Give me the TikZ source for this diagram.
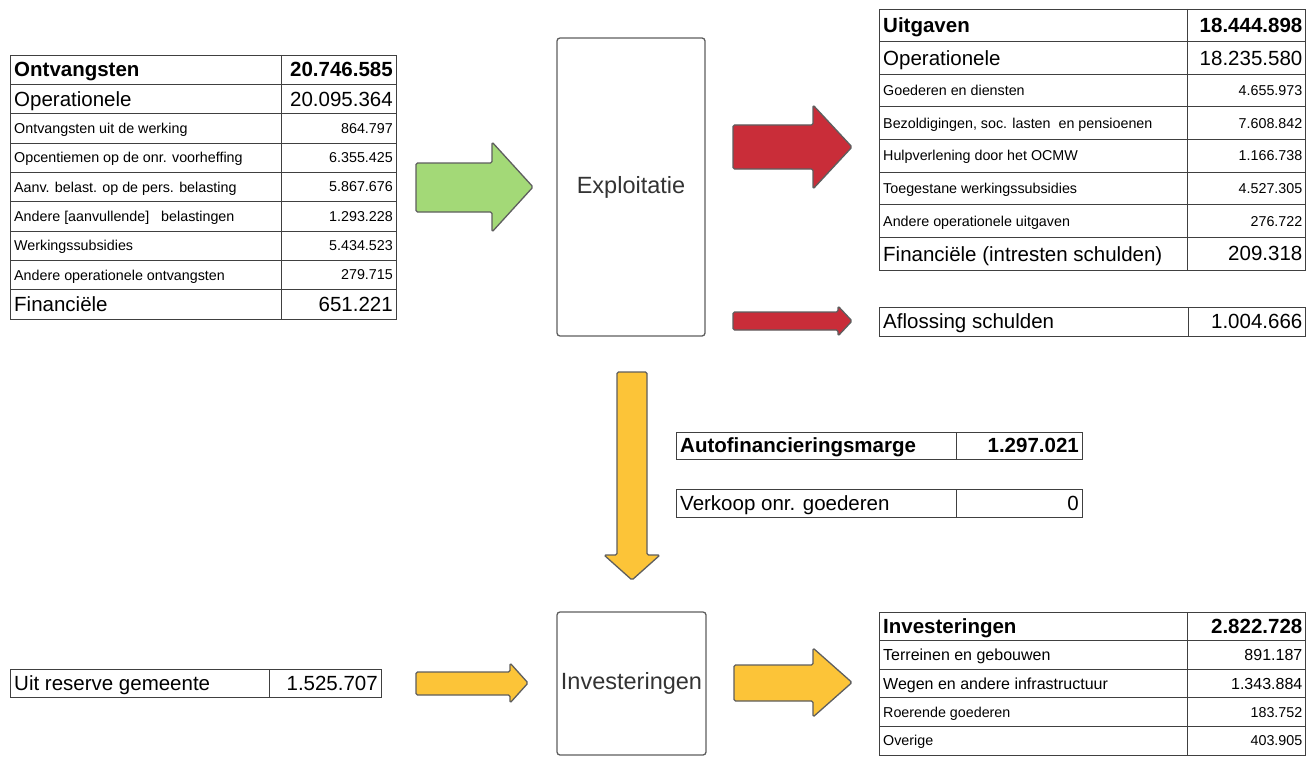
\documentclass[tikz,border=0pt]{standalone}
\usepackage{fontspec}
\setmainfont{Liberation Sans}
\usepackage{tikz}

\definecolor{groen}{HTML}{A3D977}
\definecolor{rood}{HTML}{C92D39}
\definecolor{geel}{HTML}{FCC438}
\definecolor{rand}{HTML}{5E5E5E}
\definecolor{tekst}{HTML}{333333}

\newcommand{\fgroot}{\fontsize{20.5}{23}\selectfont}
\newcommand{\fmidden}{\fontsize{16}{18}\selectfont}
\newcommand{\fklein}{\fontsize{14.3}{16}\selectfont}
\newcommand{\fblok}{\fontsize{23.5}{26}\selectfont}

% one table row: name, top, bottom, font, label, value (columns at \xa, \xb, \xc)
\newcommand{\trow}[6]{%
  \draw[tline] (\xa,#2) rectangle (\xc,#3);
  \draw[tline] (\xb,#2) -- (\xb,#3);
  \node[cel,anchor=west,font=#4] (#1l) at (\xa+2,{(#2+#3)/2}) {#5};
  \node[cel,anchor=east,font=#4] (#1v) at (\xc-1,{(#2+#3)/2}) {#6};
}
% block arrow: colour, x start, x tip, x head, shaft top, shaft bottom, head top, head bottom
\newcommand{\blokpijl}[8]{%
  \draw[pijl,fill=#1] (#2,#5) -- (#4,#5) -- (#4,#7) -- (#3,{(#7+#8)/2})
    -- (#4,#8) -- (#4,#6) -- (#2,#6) -- cycle;
}

\tikzset{
  tline/.style={draw=black!75,line width=0.9pt},
  cel/.style={inner xsep=2pt,inner ysep=0pt,text depth=0pt},
  pijl/.style={draw=rand,line width=1.3pt,rounded corners=1.5pt,line join=round},
  blok/.style={draw=rand,line width=1.3pt,rounded corners=3pt,font=\fblok,text=tekst}
}

\begin{document}
\begin{tikzpicture}[x=1pt,y=-1pt]
\useasboundingbox (0,0) rectangle (1306,757);

% ontvangsten
\def\xa{10}\def\xb{281}\def\xc{396}
\trow{ot}{55}{84.3}{\fgroot\bfseries}{Ontvangsten}{20.746.585}
\trow{oop}{84.3}{113.7}{\fgroot}{Operationele}{20.095.364}
\trow{ow}{113.7}{143}{\fklein}{Ontvangsten uit de werking}{864.797}
\trow{oo}{143}{172.3}{\fklein}{Opcentiemen op de onr. voorheffing}{6.355.425}
\trow{oa}{172.3}{201.7}{\fklein}{Aanv. belast. op de pers. belasting}{5.867.676}
\trow{ob}{201.7}{231}{\fklein}{Andere [aanvullende]\ \ \ belastingen}{1.293.228}
\trow{os}{231}{260.3}{\fklein}{Werkingssubsidies}{5.434.523}
\trow{oan}{260.3}{289.7}{\fklein}{Andere operationele ontvangsten}{279.715}
\trow{of}{289.7}{319}{\fgroot}{Financiële}{651.221}

% uitgaven
\def\xa{879}\def\xb{1187}\def\xc{1305.5}
\trow{ut}{9}{41.6}{\fgroot\bfseries}{Uitgaven}{18.444.898}
\trow{uop}{41.6}{74.2}{\fgroot}{Operationele}{18.235.580}
\trow{ug}{74.2}{106.9}{\fklein}{Goederen en diensten}{4.655.973}
\trow{ub}{106.9}{139.5}{\fklein}{Bezoldigingen, soc. lasten\ \ en pensioenen}{7.608.842}
\trow{uh}{139.5}{172.1}{\fklein}{Hulpverlening door het OCMW}{1.166.738}
\trow{uw}{172.1}{204.7}{\fklein}{Toegestane werkingssubsidies}{4.527.305}
\trow{ua}{204.7}{237.4}{\fklein}{Andere operationele uitgaven}{276.722}
\trow{uf}{237.4}{270}{\fgroot}{Financiële (intresten schulden)}{209.318}
\def\xb{1188}
\trow{af}{307}{336}{\fgroot}{Aflossing schulden}{1.004.666}

% autofinanciering
\def\xa{676}\def\xb{956}\def\xc{1082}
\trow{am}{432}{459}{\fgroot\bfseries}{Autofinancieringsmarge}{1.297.021}
\trow{vk}{489}{517}{\fgroot}{Verkoop onr. goederen}{0}

\def\xa{10}\def\xb{269}\def\xc{381}
\trow{rg}{669}{697}{\fgroot}{Uit reserve gemeente}{1.525.707}

% investeringen
\def\xa{879}\def\xb{1187}\def\xc{1305.5}
\trow{it}{612}{640.6}{\fgroot\bfseries}{Investeringen}{2.822.728}
\trow{itg}{640.6}{669.2}{\fmidden}{Terreinen en gebouwen}{891.187}
\trow{iw}{669.2}{697.8}{\fmidden}{Wegen en andere infrastructuur}{1.343.884}
\trow{ir}{697.8}{726.4}{\fklein}{Roerende goederen}{183.752}
\trow{io}{726.4}{755}{\fklein}{Overige}{403.905}

% blokken
\node[blok,minimum width=148pt,minimum height=298pt] (exploitatie) at (631,187) {Exploitatie};
\node[blok,minimum width=149pt,minimum height=143pt] (investeringen) at (631.5,683.5) {Investeringen};

% pijlen
\blokpijl{groen}{416}{533}{492}{163}{212}{142}{232}
\blokpijl{rood}{733}{852}{813}{125}{169}{105}{189}
\blokpijl{rood}{733}{852}{838}{312}{330}{306}{336}
\blokpijl{geel}{416}{528}{510}{672}{695}{663}{703}
\blokpijl{geel}{734}{852}{813}{665}{701}{648}{717}
\draw[pijl,fill=geel] (617,372) -- (647,372) -- (647,555) -- (660,555) -- (632,580)
  -- (604,555) -- (617,555) -- cycle;
\end{tikzpicture}
\end{document}
